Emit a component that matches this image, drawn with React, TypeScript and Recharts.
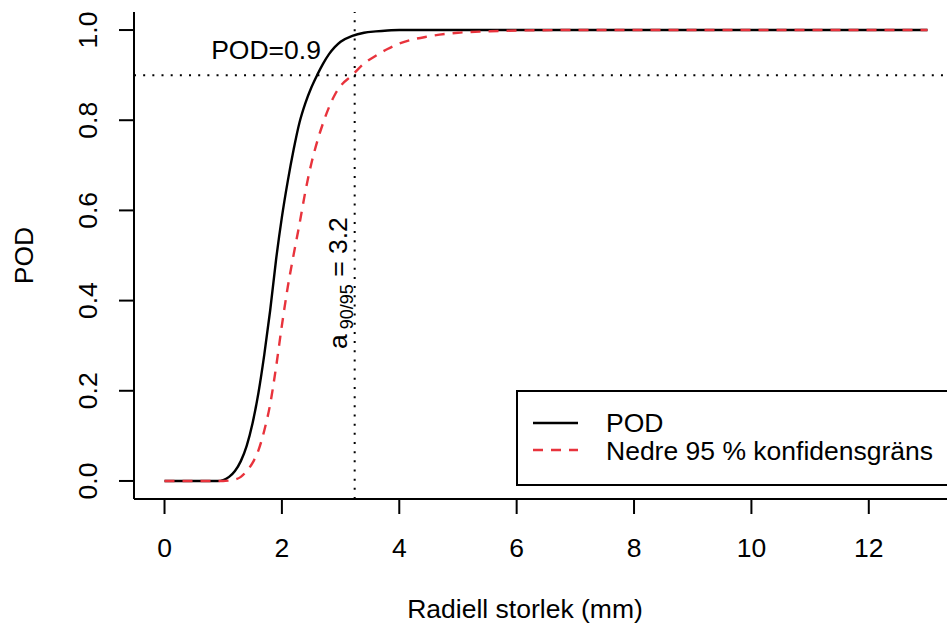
import React from "react";
import { LineChart, Line, XAxis, YAxis, ReferenceLine, Legend } from "recharts";

// ---- data ----
const xValues = [
  0, 0.5, 0.9, 1.0, 1.1, 1.2, 1.3, 1.4, 1.5, 1.6, 1.7, 1.8, 1.9, 2.0, 2.1, 2.2, 2.3, 2.4, 2.5, 2.6,
  2.7, 2.8, 2.9, 3.0, 3.2, 3.4, 3.6, 3.8, 4.0, 4.5, 5.0, 5.5, 6.0, 7.0, 8.0, 10.0, 13.0,
];
const podValues = [
  0, 0, 0, 0.002, 0.009, 0.022, 0.044, 0.078, 0.128, 0.195, 0.28, 0.378, 0.49, 0.585, 0.665, 0.735,
  0.795, 0.838, 0.872, 0.9, 0.925, 0.946, 0.962, 0.974, 0.987, 0.994, 0.997, 0.999, 1.0, 1.0, 1.0,
  1.0, 1.0, 1.0, 1.0, 1.0, 1.0,
];
const lowerValues = [
  0, 0, 0, 0, 0.001, 0.003, 0.009, 0.022, 0.04, 0.068, 0.112, 0.17, 0.252, 0.345, 0.43, 0.502, 0.57,
  0.642, 0.703, 0.752, 0.793, 0.828, 0.856, 0.876, 0.9, 0.926, 0.943, 0.958, 0.97, 0.986, 0.994,
  0.997, 0.999, 1.0, 1.0, 1.0, 1.0,
];
const xTicks = [0, 2, 4, 6, 8, 10, 12];
const yTicks = [0, 0.2, 0.4, 0.6, 0.8, 1.0];
const seriesNames = ["POD", "Nedre 95 % konfidensgräns"];
const podLevel = 0.9;
const a9095 = 3.24;
const a9095Label = "3.2";
const xTitle = "Radiell storlek (mm)";
const yTitle = "POD";

const data = xValues.map((x, i) => ({ x, pod: podValues[i], lower: lowerValues[i] }));

const FONT = "'Liberation Sans', Arial, Helvetica, sans-serif";
const FS = 26.5;
const RED = "#E8333C";

const XTick = (props: any) => {
  const { x, y, payload } = props;
  return (
    <text x={x} y={y + 43} textAnchor="middle" fontSize={FS} fill="#000" fontFamily={FONT}>
      {payload.value}
    </text>
  );
};

const YTick = (props: any) => {
  const { x, y, payload } = props;
  const tx = x - 22;
  return (
    <text
      x={tx}
      y={y}
      transform={`rotate(-90, ${tx}, ${y})`}
      textAnchor="middle"
      fontSize={FS}
      fill="#000"
      fontFamily={FONT}
    >
      {Number(payload.value).toFixed(1)}
    </text>
  );
};

const XTitle = (props: any) => {
  const vb = props.viewBox;
  return (
    <text
      x={vb.x + vb.width / 2 - 21}
      y={vb.y + 119}
      textAnchor="middle"
      fontSize={FS}
      fill="#000"
      fontFamily={FONT}
    >
      {xTitle}
    </text>
  );
};

const YTitle = (props: any) => {
  const vb = props.viewBox;
  const cx = 33;
  const cy = vb.y + vb.height / 2;
  return (
    <text
      x={cx}
      y={cy}
      transform={`rotate(-90, ${cx}, ${cy})`}
      textAnchor="middle"
      fontSize={FS}
      fill="#000"
      fontFamily={FONT}
    >
      {yTitle}
    </text>
  );
};

const PodLabel = (props: any) => {
  const vb = props.viewBox;
  return (
    <text x={vb.x + 132} y={vb.y - 16} textAnchor="middle" fontSize={FS} fill="#000" fontFamily={FONT}>
      {`POD=${podLevel}`}
    </text>
  );
};

const ALabel = (props: any) => {
  const vb = props.viewBox;
  const tx = vb.x - 8;
  const ty = vb.y + vb.height - 150;
  return (
    <text
      x={tx}
      y={ty}
      transform={`rotate(-90, ${tx}, ${ty})`}
      textAnchor="start"
      fontSize={FS}
      fill="#000"
      fontFamily={FONT}
    >
      <tspan>a</tspan>
      <tspan fontSize={18} dy={6}>
        {" 90/95"}
      </tspan>
      <tspan dy={-6}>{` = ${a9095Label}`}</tspan>
    </text>
  );
};

const renderLegend = (props: any) => {
  const payload = [...(props.payload || [])].sort(
    (a: any, b: any) => seriesNames.indexOf(a.value) - seriesNames.indexOf(b.value)
  );
  return (
    <svg width={460} height={96} style={{ display: "block" }}>
      <rect x={1} y={1} width={470} height={94} fill="#fff" stroke="#000" strokeWidth={2} />
      {payload.map((entry: any, i: number) => {
        const ly = 33 + i * 27;
        const dash = entry.payload && entry.payload.strokeDasharray;
        return (
          <g key={i}>
            <line x1={17} x2={62} y1={ly} y2={ly} stroke={entry.color} strokeWidth={2.4} strokeDasharray={dash} />
            <text x={90} y={42 + i * 28} fontSize={FS} fill="#000" fontFamily={FONT}>
              {entry.value}
            </text>
          </g>
        );
      })}
    </svg>
  );
};

export default function App() {
  return (
    <div
      style={{
        position: "absolute",
        left: 0,
        top: 0,
        width: 947,
        height: 627,
        overflow: "hidden",
        background: "#fff",
      }}
    >
      <LineChart width={970} height={627} data={data} margin={{ top: 12, right: 12, bottom: 0, left: 0 }}>
        <XAxis
          dataKey="x"
          type="number"
          domain={[-0.52, 13.52]}
          ticks={xTicks}
          height={128}
          tickSize={15}
          tickMargin={0}
          tick={<XTick />}
          tickLine={{ stroke: "#000", strokeWidth: 2 }}
          axisLine={{ stroke: "#000", strokeWidth: 2 }}
          label={<XTitle />}
        />
        <XAxis
          xAxisId="top"
          orientation="top"
          type="number"
          domain={[-0.52, 13.52]}
          height={0}
          tick={false}
          tickLine={false}
          axisLine={{ stroke: "#000", strokeWidth: 2 }}
        />
        <YAxis
          type="number"
          domain={[-0.04, 1.04]}
          ticks={yTicks}
          width={134}
          tickSize={15}
          tickMargin={0}
          tick={<YTick />}
          tickLine={{ stroke: "#000", strokeWidth: 2 }}
          axisLine={{ stroke: "#000", strokeWidth: 2 }}
          label={<YTitle />}
        />
        <ReferenceLine
          y={podLevel}
          stroke="#000"
          strokeWidth={2}
          strokeDasharray="2 7.17"
          label={<PodLabel />}
        />
        <ReferenceLine
          x={a9095}
          stroke="#000"
          strokeWidth={2}
          strokeDasharray="2 7.17"
          label={<ALabel />}
        />
        <Line
          dataKey="pod"
          name={seriesNames[0]}
          type="monotone"
          stroke="#000"
          strokeWidth={2.4}
          dot={false}
          activeDot={false}
          isAnimationActive={false}
        />
        <Line
          dataKey="lower"
          name={seriesNames[1]}
          type="monotone"
          stroke={RED}
          strokeWidth={2.4}
          strokeDasharray="10 8"
          dot={false}
          activeDot={false}
          isAnimationActive={false}
        />
        <Legend
          verticalAlign="middle"
          align="center"
          layout="horizontal"
          wrapperStyle={{ left: 516, top: 390, width: 460, height: 96 }}
          content={renderLegend}
        />
      </LineChart>
    </div>
  );
}
